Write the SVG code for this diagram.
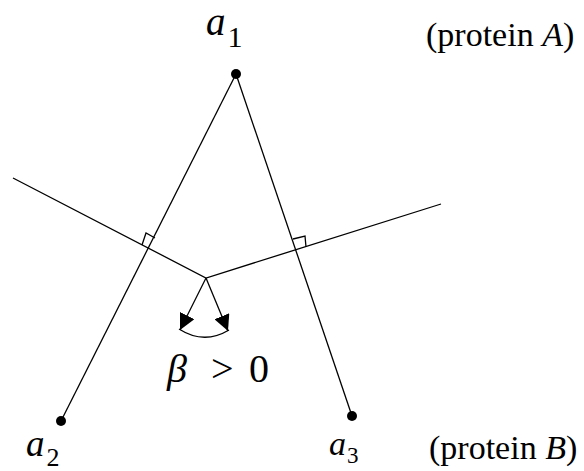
<svg xmlns="http://www.w3.org/2000/svg" width="584" height="471" viewBox="0 0 584 471">
<style>
.ln{stroke:#000;stroke-width:1.3;fill:none}
.t{font-family:"Liberation Serif",serif;fill:#000}
.i{font-style:italic}
</style>
<defs>
<marker id="ah" viewBox="0 0 10 10" refX="10" refY="5" markerWidth="16" markerHeight="16" markerUnits="userSpaceOnUse" orient="auto">
<path d="M0,0 L10,5 L0,10 z" fill="#000"/>
</marker>
</defs>
<g id="connectors">
<line class="ln" x1="236" y1="74" x2="61" y2="421"/>
<line class="ln" x1="236" y1="74" x2="352" y2="416"/>
<polyline class="ln" points="13,178 206,278 441,204"/>
<polyline class="ln" points="142,245 146,233 155,238"/>
<polyline class="ln" points="293,239 305,236 306,247"/>
<line class="ln" x1="206" y1="278" x2="180" y2="330" marker-end="url(#ah)"/>
<line class="ln" x1="206" y1="278" x2="228" y2="331" marker-end="url(#ah)"/>
<path class="ln" d="M179,329 Q204,345 229,330"/>
</g>
<g id="a1"><circle cx="236" cy="74" r="5"/><text class="t" x="206" y="35" font-size="39"><tspan class="i">a</tspan><tspan font-size="30" dx="2" dy="12">1</tspan></text></g>
<g id="a2"><circle cx="61" cy="421" r="5"/><text class="t" x="26" y="456" font-size="37"><tspan class="i">a</tspan><tspan font-size="26" dx="2" dy="10">2</tspan></text></g>
<g id="a3"><circle cx="352" cy="416" r="5"/><text class="t" x="329" y="455" font-size="34"><tspan class="i">a</tspan><tspan font-size="23" dx="1" dy="8">3</tspan></text></g>
<g id="proteinA"><text class="t" x="426" y="46" font-size="34">(protein <tspan class="i">A</tspan>)</text></g>
<g id="proteinB"><text class="t" x="429" y="459" font-size="34">(protein <tspan class="i">B</tspan>)</text></g>
<g id="beta"><text class="t" x="167" y="382" font-size="40"><tspan class="i">β</tspan></text><text class="t" x="211" y="382" font-size="40">&gt;</text><text class="t" x="249" y="382" font-size="40">0</text></g>
</svg>
